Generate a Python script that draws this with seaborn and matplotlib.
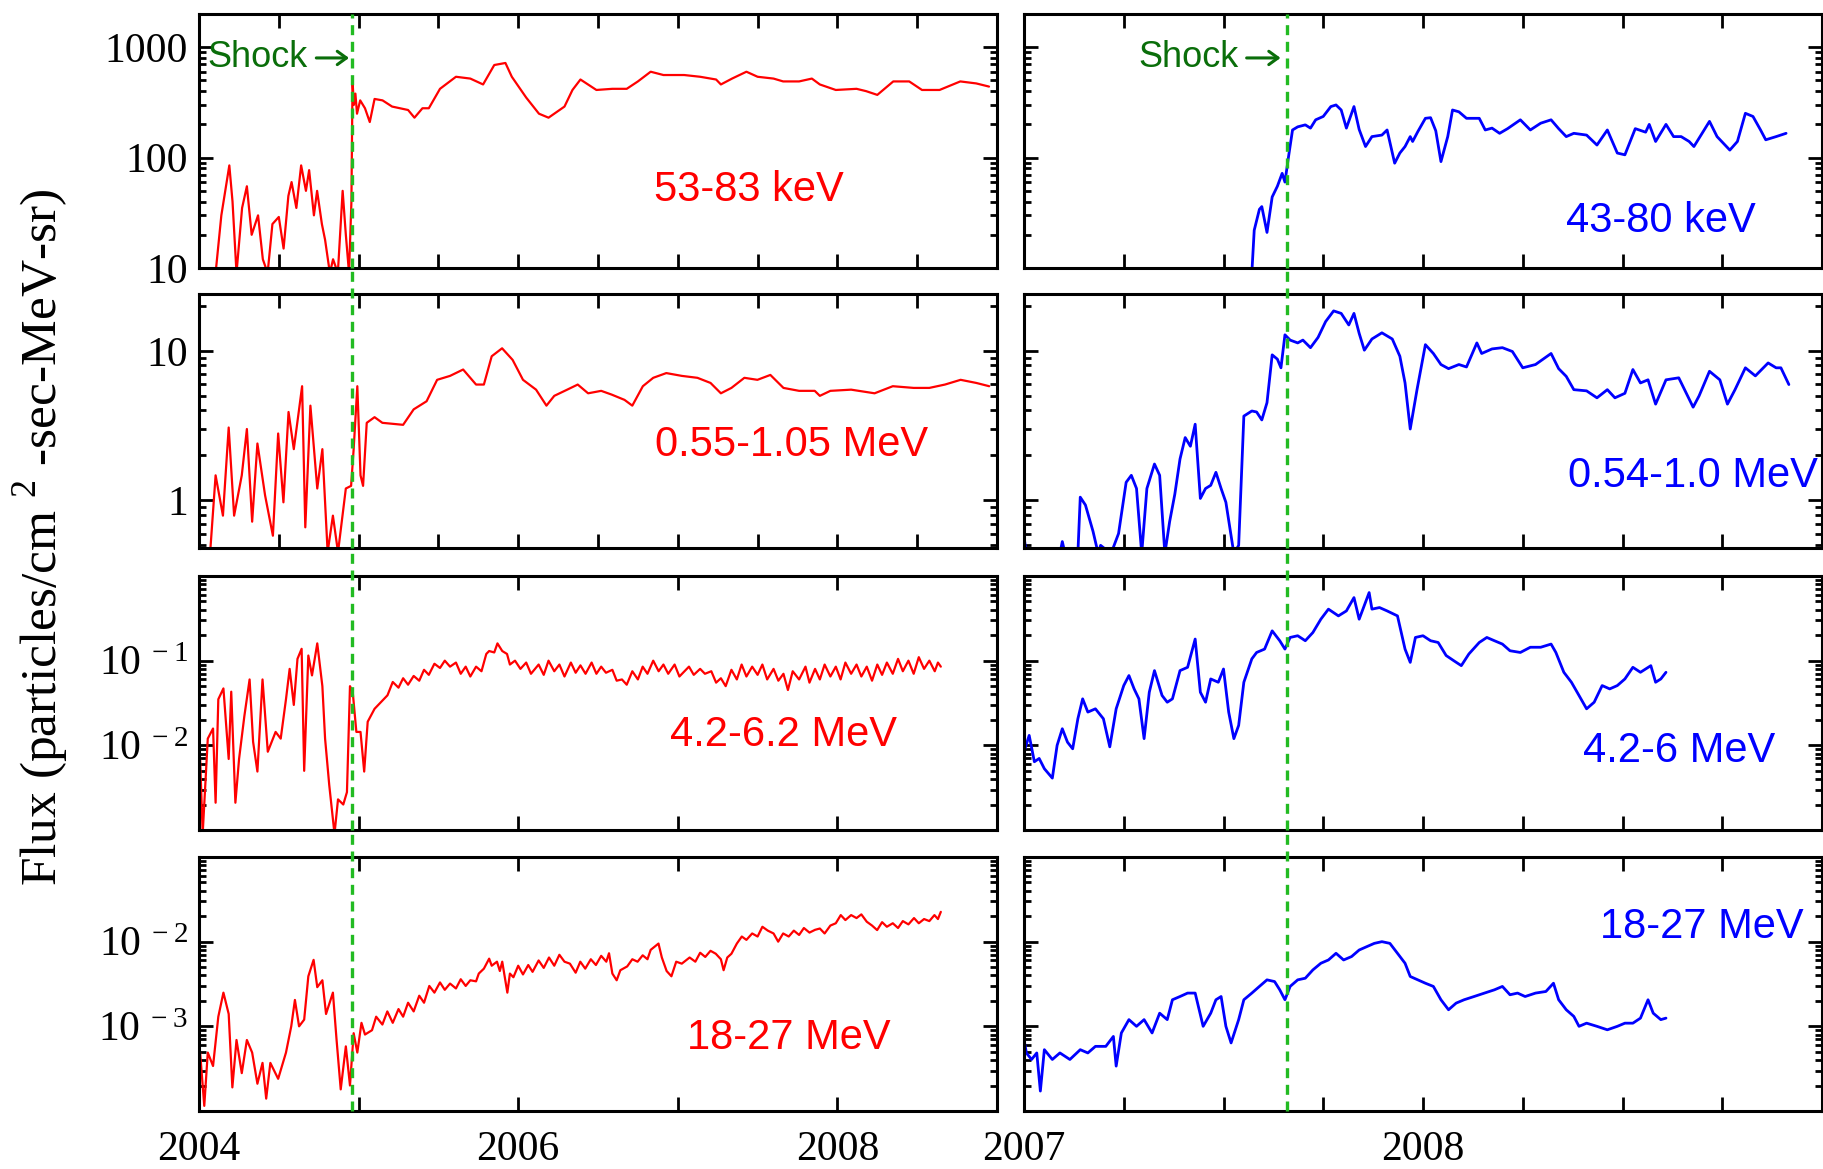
import numpy as np
import matplotlib
matplotlib.use("Agg")
import matplotlib.pyplot as plt
from matplotlib.ticker import LogLocator, NullLocator, FixedLocator, NullFormatter
import seaborn as sns

# ---------------- data ----------------
shock_left = 2004.96
shock_right = 2007.66

# Left column (2004-2009)
l1_year = [2004.104, 2004.14, 2004.19, 2004.21, 2004.235, 2004.27, 2004.30, 2004.33, 2004.37, 2004.40,
           2004.43, 2004.46, 2004.50, 2004.53, 2004.56, 2004.58, 2004.61, 2004.64, 2004.67, 2004.69,
           2004.72, 2004.74, 2004.77, 2004.79, 2004.82, 2004.84, 2004.87, 2004.90, 2004.92, 2004.94,
           2004.955, 2004.962, 2004.97, 2004.98, 2004.99, 2005.01, 2005.04, 2005.07, 2005.10, 2005.15,
           2005.21, 2005.31, 2005.35, 2005.40, 2005.44, 2005.51, 2005.61, 2005.70, 2005.78, 2005.85,
           2005.92, 2005.96, 2006.05, 2006.13, 2006.19, 2006.29, 2006.34, 2006.39, 2006.49, 2006.59,
           2006.68, 2006.75, 2006.83, 2006.91, 2007.04, 2007.14, 2007.24, 2007.27, 2007.34, 2007.43,
           2007.50, 2007.60, 2007.66, 2007.76, 2007.84, 2007.89, 2007.99, 2008.12, 2008.18, 2008.25,
           2008.35, 2008.45, 2008.53, 2008.64, 2008.77, 2008.87, 2008.95]
l1_flux = [9, 30, 85, 40, 9, 35, 55, 20, 30, 12,
           9, 25, 29, 15, 45, 60, 35, 85, 50, 77,
           30, 50, 25, 18, 9, 12, 9, 50, 20, 9,
           40, 500, 300, 380, 250, 330, 280, 210, 340, 330,
           290, 270, 230, 280, 280, 420, 540, 520, 460, 690,
           720, 540, 350, 250, 230, 290, 410, 510, 410, 420,
           420, 490, 600, 560, 560, 540, 510, 460, 520, 600,
           540, 520, 490, 490, 520, 460, 410, 420, 400, 370,
           490, 490, 410, 410, 490, 470, 440]

l2_year = [2004.07, 2004.104, 2004.15, 2004.186, 2004.22, 2004.268, 2004.30, 2004.333, 2004.366, 2004.414,
           2004.463, 2004.496, 2004.529, 2004.561, 2004.594, 2004.627, 2004.646, 2004.666, 2004.698, 2004.741,
           2004.773, 2004.806, 2004.839, 2004.871, 2004.92, 2004.953, 2004.969, 2004.992, 2005.012, 2005.028,
           2005.051, 2005.10, 2005.149, 2005.279, 2005.345, 2005.426, 2005.492, 2005.573, 2005.655, 2005.736,
           2005.785, 2005.834, 2005.899, 2005.965, 2006.03, 2006.112, 2006.177, 2006.226, 2006.307, 2006.373,
           2006.438, 2006.52, 2006.585, 2006.666, 2006.715, 2006.781, 2006.846, 2006.928, 2007.025, 2007.123,
           2007.205, 2007.27, 2007.336, 2007.417, 2007.499, 2007.58, 2007.662, 2007.76, 2007.858, 2007.89,
           2007.956, 2008.086, 2008.233, 2008.347, 2008.478, 2008.576, 2008.674, 2008.772, 2008.87, 2008.951]
l2_flux = [0.45, 1.47, 0.79, 3.07, 0.79, 1.47, 3.0, 0.72, 2.4, 1.08,
           0.58, 2.8, 0.97, 3.9, 2.2, 4.06, 5.8, 0.66, 4.3, 1.2,
           2.2, 0.45, 0.79, 0.45, 1.2, 1.25, 2.2, 5.8, 1.47, 1.25,
           3.3, 3.6, 3.3, 3.2, 4.06, 4.6, 6.4, 6.8, 7.5, 5.95,
           5.95, 9.2, 10.4, 8.7, 6.4, 5.5, 4.3, 5.0, 5.5, 5.95,
           5.2, 5.4, 5.1, 4.7, 4.3, 5.8, 6.6, 7.1, 6.8, 6.6,
           6.1, 5.2, 5.65, 6.6, 6.4, 6.9, 5.65, 5.4, 5.4, 5.0,
           5.4, 5.5, 5.2, 5.8, 5.65, 5.65, 5.95, 6.4, 6.1, 5.8]

l3_year = [2004.0, 2004.007, 2004.023, 2004.055, 2004.088, 2004.104, 2004.121, 2004.153, 2004.186, 2004.202,
           2004.228, 2004.251, 2004.284, 2004.317, 2004.339, 2004.366, 2004.398, 2004.431, 2004.48, 2004.512,
           2004.545, 2004.568, 2004.594, 2004.617, 2004.643, 2004.659, 2004.685, 2004.708, 2004.741, 2004.773,
           2004.79, 2004.816, 2004.849, 2004.871, 2004.904, 2004.927, 2004.946, 2004.963, 2004.986, 2005.012,
           2005.035, 2005.057, 2005.10, 2005.181, 2005.214, 2005.25, 2005.279, 2005.31, 2005.345, 2005.38,
           2005.41, 2005.44, 2005.475, 2005.51, 2005.54, 2005.573, 2005.61, 2005.64, 2005.671, 2005.70,
           2005.736, 2005.77, 2005.80, 2005.818, 2005.85, 2005.87, 2005.90, 2005.93, 2005.948, 2005.98,
           2006.014, 2006.05, 2006.08, 2006.128, 2006.16, 2006.19, 2006.226, 2006.258, 2006.29, 2006.33,
           2006.36, 2006.39, 2006.422, 2006.46, 2006.49, 2006.52, 2006.55, 2006.59, 2006.617, 2006.65,
           2006.68, 2006.715, 2006.75, 2006.78, 2006.81, 2006.846, 2006.88, 2006.91, 2006.94, 2006.98,
           2007.01, 2007.07, 2007.10, 2007.14, 2007.17, 2007.21, 2007.24, 2007.27, 2007.30, 2007.336,
           2007.37, 2007.40, 2007.43, 2007.466, 2007.50, 2007.53, 2007.56, 2007.60, 2007.63, 2007.662,
           2007.69, 2007.72, 2007.76, 2007.80, 2007.825, 2007.86, 2007.89, 2007.92, 2007.956, 2007.99,
           2008.02, 2008.05, 2008.086, 2008.12, 2008.15, 2008.184, 2008.217, 2008.25, 2008.28, 2008.31,
           2008.347, 2008.38, 2008.41, 2008.445, 2008.478, 2008.51, 2008.543, 2008.576, 2008.61, 2008.63,
           2008.648]
l3_flux = [0.0009, 0.0069, 0.0009, 0.012, 0.0158, 0.0021, 0.035, 0.047, 0.0069, 0.043,
           0.0021, 0.0069, 0.022, 0.06, 0.011, 0.0049, 0.06, 0.0084, 0.0144, 0.012,
           0.035, 0.08, 0.03, 0.105, 0.138, 0.005, 0.115, 0.067, 0.16, 0.05,
           0.012, 0.0034, 0.0009, 0.0023, 0.002, 0.0028, 0.05, 0.043, 0.0144, 0.0144,
           0.0049, 0.019, 0.027, 0.039, 0.056, 0.048, 0.062, 0.052, 0.066, 0.058,
           0.078, 0.068, 0.092, 0.082, 0.1, 0.085, 0.095, 0.07, 0.085, 0.065,
           0.085, 0.075, 0.12, 0.13, 0.125, 0.16, 0.13, 0.12, 0.09, 0.1,
           0.08, 0.095, 0.07, 0.09, 0.068, 0.1, 0.075, 0.09, 0.065, 0.095,
           0.072, 0.088, 0.07, 0.095, 0.07, 0.085, 0.072, 0.078, 0.058, 0.06,
           0.052, 0.075, 0.06, 0.085, 0.07, 0.1, 0.075, 0.09, 0.07, 0.09,
           0.065, 0.085, 0.068, 0.08, 0.07, 0.075, 0.055, 0.062, 0.05, 0.078,
           0.06, 0.09, 0.065, 0.085, 0.068, 0.09, 0.06, 0.08, 0.058, 0.07,
           0.045, 0.075, 0.06, 0.085, 0.055, 0.08, 0.06, 0.09, 0.065, 0.085,
           0.06, 0.095, 0.07, 0.09, 0.065, 0.085, 0.058, 0.09, 0.068, 0.095,
           0.07, 0.105, 0.075, 0.1, 0.07, 0.11, 0.08, 0.1, 0.075, 0.095,
           0.085]

l4_year = [2004.0, 2004.007, 2004.033, 2004.055, 2004.088, 2004.121, 2004.153, 2004.186, 2004.209, 2004.235,
           2004.268, 2004.30, 2004.333, 2004.366, 2004.398, 2004.421, 2004.447, 2004.496, 2004.545, 2004.578,
           2004.601, 2004.627, 2004.659, 2004.685, 2004.718, 2004.741, 2004.773, 2004.796, 2004.839, 2004.862,
           2004.888, 2004.92, 2004.946, 2004.969, 2004.992, 2005.018, 2005.04, 2005.084, 2005.11, 2005.149,
           2005.18, 2005.214, 2005.25, 2005.279, 2005.31, 2005.345, 2005.38, 2005.41, 2005.443, 2005.475,
           2005.51, 2005.54, 2005.573, 2005.61, 2005.64, 2005.671, 2005.70, 2005.736, 2005.753, 2005.785,
           2005.818, 2005.834, 2005.867, 2005.885, 2005.90, 2005.932, 2005.948, 2005.97, 2006.0, 2006.03,
           2006.063, 2006.09, 2006.128, 2006.16, 2006.193, 2006.226, 2006.258, 2006.29, 2006.324, 2006.36,
           2006.389, 2006.42, 2006.455, 2006.487, 2006.52, 2006.552, 2006.569, 2006.59, 2006.617, 2006.64,
           2006.683, 2006.715, 2006.748, 2006.78, 2006.81, 2006.83, 2006.879, 2006.90, 2006.93, 2006.96,
           2006.99, 2007.025, 2007.074, 2007.11, 2007.14, 2007.172, 2007.205, 2007.238, 2007.27, 2007.287,
           2007.31, 2007.336, 2007.37, 2007.401, 2007.43, 2007.466, 2007.50, 2007.53, 2007.564, 2007.60,
           2007.629, 2007.66, 2007.695, 2007.727, 2007.76, 2007.79, 2007.825, 2007.86, 2007.89, 2007.92,
           2007.956, 2007.99, 2008.021, 2008.05, 2008.086, 2008.12, 2008.15, 2008.184, 2008.217, 2008.249,
           2008.28, 2008.31, 2008.347, 2008.38, 2008.41, 2008.445, 2008.48, 2008.51, 2008.543, 2008.576,
           2008.608, 2008.63, 2008.648]
l4_flux = [0.00012, 0.00049, 0.000115, 0.00049, 0.00034, 0.0013, 0.0025, 0.0014, 0.00019, 0.00069,
           0.00028, 0.00069, 0.00049, 0.00021, 0.00037, 0.00014, 0.00037, 0.00024, 0.00049, 0.001,
           0.00205, 0.001, 0.0012, 0.0039, 0.0061, 0.0029, 0.0035, 0.0014, 0.0025, 0.00069,
           0.00018, 0.00058, 0.0002, 0.00083, 0.00049, 0.0011, 0.0008, 0.0009, 0.0013, 0.00105,
           0.0015, 0.0011, 0.0016, 0.0013, 0.0019, 0.0015, 0.0023, 0.0019, 0.003, 0.0025,
           0.0033, 0.0027, 0.0032, 0.0028, 0.0036, 0.003, 0.0035, 0.0034, 0.0042, 0.0048,
           0.0063, 0.0052, 0.0058, 0.0045, 0.0058, 0.0025, 0.0042, 0.0038, 0.0052, 0.0041,
           0.0053, 0.0044, 0.006, 0.0049, 0.0065, 0.0052, 0.007, 0.0058, 0.0055, 0.0043,
           0.0058, 0.0048, 0.0062, 0.0053, 0.0068, 0.0058, 0.0073, 0.0042, 0.0035, 0.0046,
           0.0051, 0.0062, 0.0058, 0.0069, 0.0062, 0.008, 0.0095, 0.0065, 0.0045, 0.0039,
           0.0058, 0.0055, 0.0065, 0.0058, 0.0074, 0.0066, 0.0078, 0.0072, 0.0062, 0.0046,
           0.0065, 0.0072, 0.0095, 0.0115, 0.0105, 0.0125, 0.0115, 0.015, 0.0135, 0.0125,
           0.01, 0.0125, 0.0115, 0.0135, 0.012, 0.0145, 0.0128, 0.0138, 0.0143, 0.0125,
           0.0155, 0.0165, 0.0206, 0.018, 0.0206, 0.019, 0.021, 0.0172, 0.0155, 0.0137,
           0.017, 0.015, 0.0165, 0.0145, 0.0175, 0.016, 0.019, 0.0165, 0.0185, 0.0175,
           0.0206, 0.0185, 0.0225]

# Right column (2007-2009)
r1_year = [2007.571, 2007.577, 2007.590, 2007.596, 2007.609, 2007.622, 2007.635, 2007.647, 2007.654, 2007.663,
           2007.673, 2007.686, 2007.705, 2007.718, 2007.731, 2007.750, 2007.769, 2007.782, 2007.795, 2007.808,
           2007.827, 2007.840, 2007.856, 2007.872, 2007.897, 2007.910, 2007.929, 2007.942, 2007.955, 2007.968,
           2007.974, 2007.987, 2008.006, 2008.019, 2008.032, 2008.045, 2008.062, 2008.074, 2008.090, 2008.109,
           2008.141, 2008.156, 2008.173, 2008.192, 2008.212, 2008.244, 2008.269, 2008.295, 2008.321, 2008.340,
           2008.359, 2008.378, 2008.410, 2008.436, 2008.462, 2008.487, 2008.506, 2008.532, 2008.558, 2008.567,
           2008.583, 2008.609, 2008.628, 2008.647, 2008.667, 2008.679, 2008.718, 2008.737, 2008.769, 2008.788,
           2008.808, 2008.827, 2008.846, 2008.859, 2008.885, 2008.910]
r1_flux = [9, 22, 34, 36, 21, 44, 55, 72, 60, 102,
           178, 190, 198, 185, 220, 236, 290, 300, 270, 185,
           290, 180, 126, 155, 160, 178, 89, 110, 126, 155,
           140, 172, 227, 230, 175, 92, 155, 270, 260, 227,
           227, 178, 185, 166, 183, 220, 178, 205, 220, 183,
           155, 166, 160, 130, 178, 110, 106, 183, 170, 200,
           140, 200, 155, 155, 140, 126, 213, 155, 117, 140,
           252, 236, 178, 145, 155, 166]

r2_year = [2007.000, 2007.006, 2007.090, 2007.096, 2007.103, 2007.135, 2007.141, 2007.154, 2007.173, 2007.186,
           2007.192, 2007.218, 2007.237, 2007.256, 2007.269, 2007.282, 2007.295, 2007.308, 2007.327, 2007.340,
           2007.353, 2007.365, 2007.378, 2007.391, 2007.404, 2007.417, 2007.429, 2007.442, 2007.455, 2007.468,
           2007.481, 2007.494, 2007.506, 2007.526, 2007.538, 2007.551, 2007.571, 2007.583, 2007.596, 2007.609,
           2007.622, 2007.635, 2007.644, 2007.654, 2007.667, 2007.686, 2007.699, 2007.718, 2007.737, 2007.756,
           2007.776, 2007.795, 2007.814, 2007.827, 2007.840, 2007.853, 2007.872, 2007.897, 2007.923, 2007.942,
           2007.955, 2007.968, 2007.985, 2008.006, 2008.026, 2008.045, 2008.064, 2008.090, 2008.109, 2008.135,
           2008.147, 2008.173, 2008.199, 2008.224, 2008.250, 2008.282, 2008.321, 2008.340, 2008.359, 2008.378,
           2008.410, 2008.436, 2008.462, 2008.481, 2008.506, 2008.526, 2008.545, 2008.564, 2008.583, 2008.609,
           2008.641, 2008.660, 2008.677, 2008.692, 2008.718, 2008.744, 2008.763, 2008.782, 2008.808, 2008.833,
           2008.865, 2008.885, 2008.897, 2008.917]
r2_flux = [0.57, 0.44, 0.44, 0.53, 0.44, 0.44, 1.05, 0.93, 0.62, 0.44,
           0.5, 0.44, 0.6, 1.32, 1.47, 1.2, 0.44, 1.2, 1.75, 1.47,
           0.44, 0.72, 1.1, 1.89, 2.63, 2.3, 3.23, 1.03, 1.2, 1.26,
           1.54, 1.2, 0.97, 0.44, 0.5, 3.66, 3.96, 3.9, 3.45, 4.5,
           9.4, 8.8, 7.7, 12.8, 11.8, 11.3, 11.8, 10.5, 12.3, 15.7,
           18.5, 17.8, 14.9, 17.8, 13.1, 10.1, 12.0, 13.2, 12.0, 9.2,
           6.1, 3.0, 5.5, 11.0, 9.6, 8.1, 7.6, 8.1, 7.8, 11.3,
           9.6, 10.3, 10.5, 9.9, 7.7, 8.1, 9.6, 7.6, 6.75, 5.5,
           5.4, 4.85, 5.5, 4.85, 5.2, 7.5, 6.1, 6.4, 4.4, 6.4,
           6.6, 5.2, 4.2, 5.0, 7.3, 6.4, 4.4, 5.5, 7.7, 6.8,
           8.3, 7.7, 7.7, 5.95]

r3_year = [2007.000, 2007.013, 2007.026, 2007.038, 2007.051, 2007.071, 2007.083, 2007.096, 2007.109, 2007.122,
           2007.135, 2007.147, 2007.160, 2007.179, 2007.199, 2007.215, 2007.231, 2007.250, 2007.263, 2007.276,
           2007.288, 2007.301, 2007.314, 2007.327, 2007.346, 2007.359, 2007.372, 2007.391, 2007.410, 2007.429,
           2007.442, 2007.455, 2007.468, 2007.487, 2007.500, 2007.513, 2007.526, 2007.538, 2007.551, 2007.571,
           2007.583, 2007.603, 2007.622, 2007.641, 2007.654, 2007.667, 2007.686, 2007.705, 2007.724, 2007.744,
           2007.763, 2007.788, 2007.808, 2007.827, 2007.840, 2007.865, 2007.872, 2007.891, 2007.910, 2007.936,
           2007.955, 2007.968, 2007.981, 2008.000, 2008.019, 2008.038, 2008.058, 2008.077, 2008.096, 2008.115,
           2008.141, 2008.160, 2008.179, 2008.199, 2008.218, 2008.244, 2008.269, 2008.295, 2008.321, 2008.333,
           2008.353, 2008.372, 2008.391, 2008.410, 2008.429, 2008.449, 2008.468, 2008.487, 2008.506, 2008.526,
           2008.545, 2008.571, 2008.583, 2008.596, 2008.609]
r3_flux = [0.0084, 0.0131, 0.0064, 0.0070, 0.0053, 0.0041, 0.0100, 0.0157, 0.0109, 0.0091,
           0.0206, 0.0354, 0.0247, 0.0270, 0.0206, 0.0096, 0.0270, 0.0508, 0.0667, 0.0464,
           0.0354, 0.0120, 0.0424, 0.0763, 0.0388, 0.0323, 0.0354, 0.0763, 0.0835, 0.180,
           0.0424, 0.0323, 0.0608, 0.0556, 0.0797, 0.0247, 0.0120, 0.0172, 0.0556, 0.105,
           0.125, 0.137, 0.225, 0.172, 0.137, 0.188, 0.197, 0.172, 0.215, 0.309,
           0.406, 0.338, 0.387, 0.556, 0.309, 0.637, 0.406, 0.424, 0.387, 0.338,
           0.137, 0.0955, 0.188, 0.197, 0.172, 0.164, 0.115, 0.100, 0.0873, 0.120,
           0.164, 0.188, 0.172, 0.157, 0.131, 0.125, 0.144, 0.144, 0.157, 0.125,
           0.0729, 0.0556, 0.0388, 0.0270, 0.0323, 0.0508, 0.0464, 0.0508, 0.0608, 0.0835,
           0.0729, 0.0873, 0.0556, 0.0608, 0.0729]

r4_year = [2007.000, 2007.006, 2007.019, 2007.032, 2007.041, 2007.051, 2007.071, 2007.090, 2007.115, 2007.141,
           2007.160, 2007.179, 2007.205, 2007.224, 2007.231, 2007.244, 2007.263, 2007.282, 2007.301, 2007.321,
           2007.340, 2007.359, 2007.372, 2007.391, 2007.410, 2007.429, 2007.449, 2007.468, 2007.481, 2007.494,
           2007.506, 2007.519, 2007.538, 2007.551, 2007.571, 2007.590, 2007.609, 2007.628, 2007.641, 2007.654,
           2007.667, 2007.686, 2007.705, 2007.724, 2007.744, 2007.763, 2007.782, 2007.801, 2007.821, 2007.840,
           2007.859, 2007.878, 2007.897, 2007.917, 2007.936, 2007.955, 2007.968, 2007.987, 2008.006, 2008.026,
           2008.045, 2008.064, 2008.083, 2008.103, 2008.128, 2008.154, 2008.179, 2008.199, 2008.218, 2008.237,
           2008.256, 2008.282, 2008.308, 2008.327, 2008.340, 2008.359, 2008.378, 2008.391, 2008.410, 2008.436,
           2008.462, 2008.487, 2008.506, 2008.526, 2008.545, 2008.564, 2008.577, 2008.596, 2008.609]
r4_flux = [6.97e-4, 4.85e-4, 4.06e-4, 4.85e-4, 1.72e-4, 5.3e-4, 4.06e-4, 4.85e-4, 4.06e-4, 5.3e-4,
           4.85e-4, 5.8e-4, 5.8e-4, 7.6e-4, 3.39e-4, 8.35e-4, 1.2e-3, 1.0e-3, 1.2e-3, 8.35e-4,
           1.43e-3, 1.2e-3, 2.06e-3, 2.25e-3, 2.47e-3, 2.47e-3, 1.0e-3, 1.43e-3, 2.06e-3, 2.25e-3,
           1.0e-3, 6.37e-4, 1.2e-3, 2.06e-3, 2.47e-3, 2.96e-3, 3.54e-3, 3.38e-3, 2.7e-3, 2.06e-3,
           2.96e-3, 3.54e-3, 3.7e-3, 4.64e-3, 5.56e-3, 6.08e-3, 7.29e-3, 6.08e-3, 6.67e-3, 7.97e-3,
           8.73e-3, 9.55e-3, 1.0e-2, 9.55e-3, 7.29e-3, 5.56e-3, 3.88e-3, 3.54e-3, 3.23e-3, 2.96e-3,
           2.06e-3, 1.57e-3, 1.88e-3, 2.06e-3, 2.25e-3, 2.47e-3, 2.7e-3, 2.96e-3, 2.36e-3, 2.47e-3,
           2.25e-3, 2.47e-3, 2.58e-3, 3.23e-3, 2.06e-3, 1.57e-3, 1.31e-3, 1.0e-3, 1.09e-3, 1.0e-3,
           9.1e-4, 1.0e-3, 1.09e-3, 1.09e-3, 1.25e-3, 2.06e-3, 1.43e-3, 1.2e-3, 1.25e-3]

left_labels = ["53-83 keV", "0.55-1.05 MeV", "4.2-6.2 MeV", "18-27 MeV"]
right_labels = ["43-80 keV", "0.54-1.0 MeV", "4.2-6 MeV", "18-27 MeV"]
row_ylims = [(10, 2000), (0.48, 24), (1e-3, 1.0), (1e-4, 1e-1)]
row_yticks = [[10, 100, 1000], [1, 10], [1e-2, 1e-1], [1e-3, 1e-2]]
row_yticklabels = [["10", "100", "1000"], ["1", "10"],
                   [r"$\mathregular{10^{\,-2}}$", r"$\mathregular{10^{\,-1}}$"],
                   [r"$\mathregular{10^{\,-3}}$", r"$\mathregular{10^{\,-2}}$"]]
left_xlabels = {2004: "2004", 2006: "2006", 2008: "2008"}
right_xlabels = {2007: "2007", 2008: "2008"}

left_series = [(l1_year, l1_flux), (l2_year, l2_flux), (l3_year, l3_flux), (l4_year, l4_flux)]
right_series = [(r1_year, r1_flux), (r2_year, r2_flux), (r3_year, r3_flux), (r4_year, r4_flux)]

# ---------------- style ----------------
sns.set_theme(style="ticks")
plt.rcParams["font.family"] = ["Liberation Serif", "DejaVu Serif"]
plt.rcParams["mathtext.fontset"] = "custom"
plt.rcParams["mathtext.rm"] = "Liberation Serif"
plt.rcParams["axes.linewidth"] = 2.2

RED = "#ff0000"
BLUE = "#0000ff"
SHOCK_GREEN = "#22bb22"
TEXT_GREEN = "#0a6e0a"
SANS = ["Liberation Sans", "DejaVu Sans"]

W, H = 1824, 1169
fig = plt.figure(figsize=(W / 100, H / 100), dpi=100)
fig.patch.set_facecolor("white")

left_x0, right_x0, ax_w = 199 / W, 1024 / W, 798 / W
row_tops = [14, 294, 576, 857]
row_h = 254

label_pos_left = [(0.689, 0.307), (0.743, 0.404), (0.733, 0.375), (0.739, 0.287)]
label_pos_right = [(0.798, 0.185), (0.838, 0.282), (0.821, 0.312), (0.850, 0.724)]

# shock annotation geometry (data x): text right edge, arrow start, arrow end
shock_text_geom = [(2004.68, 2004.735, 2004.94), (2007.538, 2007.558, 2007.643)]


def xlabel_for(v, mapping):
    k = int(round(v))
    return mapping[k] if abs(v - k) < 1e-6 and k in mapping else ""


for r in range(4):
    y0 = 1 - (row_tops[r] + row_h) / H
    for c in range(2):
        x0 = left_x0 if c == 0 else right_x0
        ax = fig.add_axes([x0, y0, ax_w, row_h / H])
        ax.set_facecolor("white")
        yrs, flx = (left_series if c == 0 else right_series)[r]
        col = RED if c == 0 else BLUE
        lw = 1.6 if c == 0 else 2.0
        sns.lineplot(x=yrs, y=flx, ax=ax, color=col, lw=lw, estimator=None, sort=False)
        ax.set_yscale("log")
        ax.set_ylim(*row_ylims[r])
        ax.set_xlabel("")
        ax.set_ylabel("")

        if c == 0:
            ax.set_xlim(2004, 2009)
            step = 0.5 if r < 2 else 1.0
            xt = np.arange(2004, 2009.001, step)
            shock = shock_left
            mapping = left_xlabels
        else:
            ax.set_xlim(2007, 2009)
            xt = np.arange(2007, 2009.001, 0.25)
            shock = shock_right
            mapping = right_xlabels
        ax.xaxis.set_major_locator(FixedLocator(xt))
        ax.xaxis.set_minor_locator(NullLocator())
        if r == 3:
            ax.set_xticklabels([xlabel_for(v, mapping) for v in xt])
        else:
            ax.set_xticklabels([])

        ax.yaxis.set_major_locator(FixedLocator(row_yticks[r]))
        ax.yaxis.set_minor_locator(LogLocator(base=10, subs=np.arange(2, 10), numticks=30))
        if c == 0:
            ax.set_yticklabels(row_yticklabels[r])
        else:
            ax.set_yticklabels([])
        ax.yaxis.set_minor_formatter(NullFormatter())

        ax.tick_params(which="both", direction="in", top=True, right=True, width=2.0, colors="black")
        ax.tick_params(which="major", length=10, labelsize=30, pad=8)
        ax.tick_params(which="minor", length=5)
        ax.tick_params(axis="x", which="major", pad=14)
        for sp in ax.spines.values():
            sp.set_linewidth(2.2)
            sp.set_color("black")

        # shock line (extends through the gap above the panel)
        ymax = 1.0 if r == 0 else 1.0 + 26 / row_h
        ax.axvline(shock, ymin=0, ymax=ymax, color=SHOCK_GREEN, lw=2.4,
                   linestyle=(0, (3, 2)), clip_on=False, zorder=5)

        lab = (left_labels if c == 0 else right_labels)[r]
        lx, ly = (label_pos_left if c == 0 else label_pos_right)[r]
        ax.text(lx, ly, lab, transform=ax.transAxes, ha="center", va="center",
                fontsize=30, color=col, family=SANS)

        if r == 0:
            t_end, a_start, a_end = shock_text_geom[c]
            trans = ax.get_xaxis_transform()
            ax.text(t_end, 0.827, "Shock", transform=trans,
                    ha="right", va="center", fontsize=26, color=TEXT_GREEN, family=SANS)
            ax.annotate("", xy=(a_end, 0.827), xytext=(a_start, 0.827),
                        xycoords=trans, textcoords=trans,
                        arrowprops=dict(arrowstyle="->,head_length=0.55,head_width=0.4",
                                        lw=2.2, color=TEXT_GREEN, shrinkA=0, shrinkB=0))

fig.text(41 / W, 1 - 537 / H, r"Flux (particles/cm $^{\mathregular{2}}$ -sec-MeV-sr)",
         rotation=90, ha="center", va="center", fontsize=37, color="black")

fig.savefig("out.png", dpi=100, facecolor="white")
